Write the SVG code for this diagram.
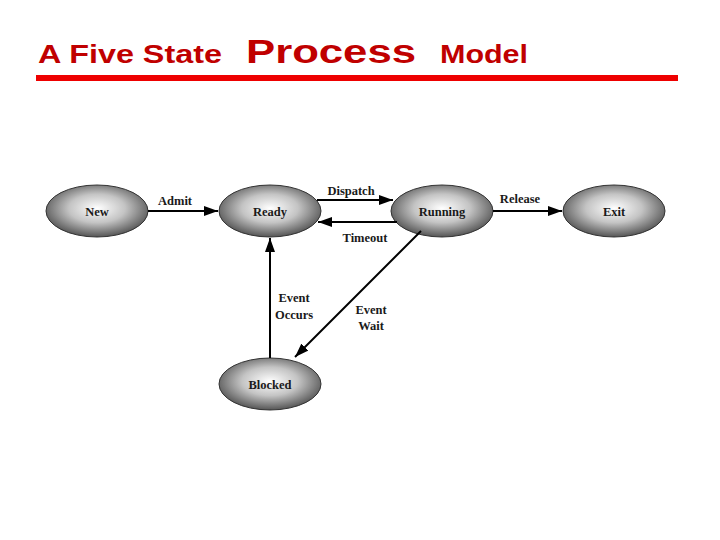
<svg xmlns="http://www.w3.org/2000/svg" width="720" height="540" viewBox="0 0 720 540">
<defs>
<radialGradient id="g" cx="50%" cy="45%" r="55%">
<stop offset="0" stop-color="#ffffff"/>
<stop offset="0.5" stop-color="#c4c4c4"/>
<stop offset="1" stop-color="#555555"/>
</radialGradient>
<marker id="ah" viewBox="0 0 14 10" refX="14" refY="5" markerWidth="14" markerHeight="10" markerUnits="userSpaceOnUse" orient="auto">
<path d="M0,0 L14,5 L0,10 Z" fill="#000"/>
</marker>
<style>
.st ellipse{fill:url(#g);stroke:#333;stroke-width:1}
.st text{font-family:"Liberation Serif","Times New Roman",serif;font-weight:bold;font-size:12.5px;fill:#1a1a1a;text-anchor:middle}
.lbl{font-family:"Liberation Serif","Times New Roman",serif;font-weight:bold;font-size:12.5px;fill:#1a1a1a;text-anchor:middle}
.c line{stroke:#000;stroke-width:2;marker-end:url(#ah)}
.t{font-family:"Liberation Sans",Arial,sans-serif;font-weight:bold;fill:#c00000}
</style>
</defs>
<rect width="720" height="540" fill="#fff"/>
<text class="t" x="38" y="63" font-size="25" textLength="184" lengthAdjust="spacingAndGlyphs">A Five State</text>
<text class="t" x="246" y="63" font-size="34" textLength="170" lengthAdjust="spacingAndGlyphs">Process</text>
<text class="t" x="440" y="63" font-size="25" textLength="88" lengthAdjust="spacingAndGlyphs">Model</text>
<rect x="36" y="75" width="642" height="6" fill="#ee0000"/>

<g id="new" class="st"><ellipse cx="97" cy="211" rx="51" ry="26"/><text x="97" y="216">New</text></g>
<g id="ready" class="st"><ellipse cx="270" cy="211" rx="51" ry="26"/><text x="270" y="216">Ready</text></g>
<g id="running" class="st"><ellipse cx="442" cy="211" rx="51" ry="26"/><text x="442" y="216">Running</text></g>
<g id="exit" class="st"><ellipse cx="614" cy="211" rx="51" ry="26"/><text x="614" y="216">Exit</text></g>
<g id="blocked" class="st"><ellipse cx="270" cy="384" rx="51" ry="26"/><text x="270" y="389">Blocked</text></g>

<g id="connectors" class="c">
<line x1="148" y1="211" x2="218" y2="211"/>
<line x1="317" y1="200" x2="393" y2="200"/>
<line x1="397" y1="222" x2="318" y2="222"/>
<line x1="493" y1="211" x2="562" y2="211"/>
<line x1="270" y1="358" x2="270" y2="238"/>
<line x1="421" y1="231" x2="295" y2="357"/>
</g>
<g id="labels">
<text class="lbl" x="175" y="205">Admit</text>
<text class="lbl" x="351" y="195">Dispatch</text>
<text class="lbl" x="365" y="242">Timeout</text>
<text class="lbl" x="520" y="203">Release</text>
<text class="lbl" x="294" y="302">Event</text>
<text class="lbl" x="294" y="319">Occurs</text>
<text class="lbl" x="371" y="314">Event</text>
<text class="lbl" x="371" y="330">Wait</text>
</g>
</svg>
